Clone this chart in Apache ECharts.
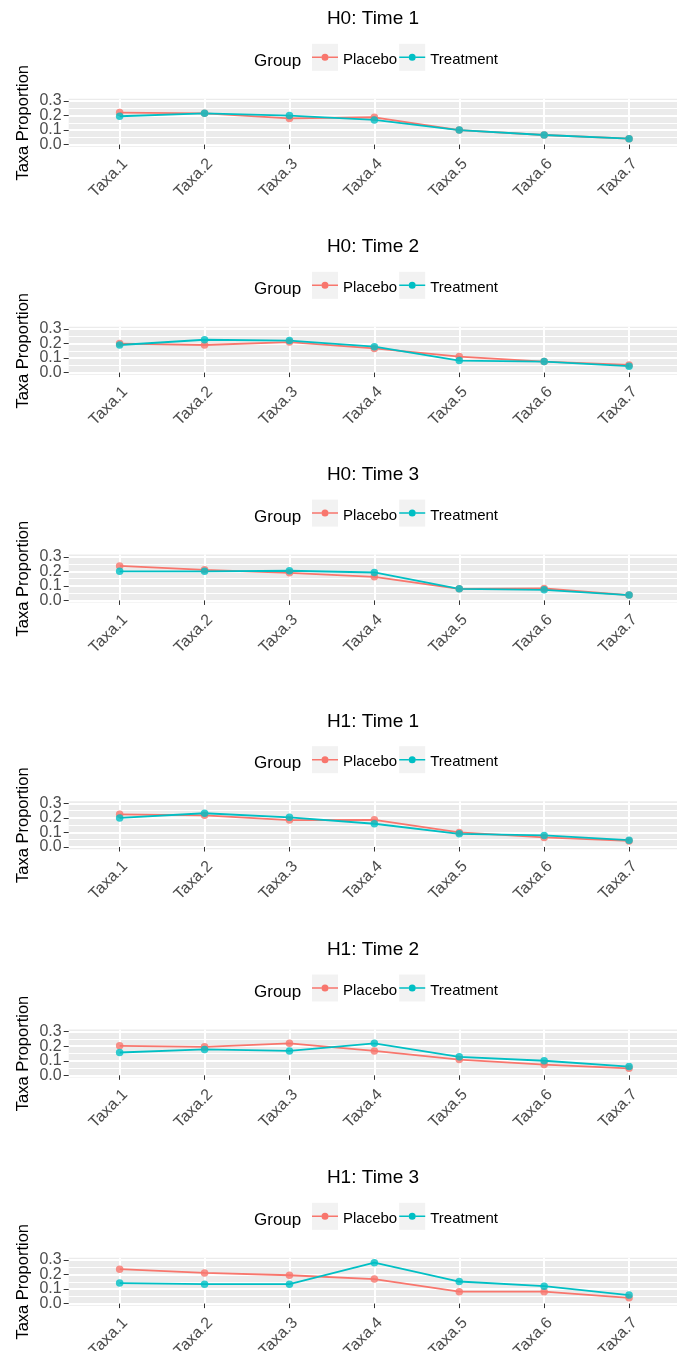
<!DOCTYPE html>
<html>
<head>
<meta charset="utf-8">
<script src="https://cdn.jsdelivr.net/npm/echarts@6/dist/echarts.min.js"></script>
<style>
html,body{margin:0;padding:0;background:#fff;}
#chart{width:677px;height:1351px;}
</style>
</head>
<body>
<div id="chart"></div>
<script>
// ---- data ----
const taxa = ['Taxa.1','Taxa.2','Taxa.3','Taxa.4','Taxa.5','Taxa.6','Taxa.7'];
const groups = ['Placebo','Treatment'];
const panelTitles = ['H0: Time 1','H0: Time 2','H0: Time 3','H1: Time 1','H1: Time 2','H1: Time 3'];
const yTicks = [0, 0.1, 0.2, 0.3];
const yMinorTicks = [0.05, 0.15, 0.25];

const placebo_H0_T1   = [0.220, 0.215, 0.180, 0.188, 0.100, 0.066, 0.041];
const treatment_H0_T1 = [0.195, 0.215, 0.200, 0.170, 0.100, 0.066, 0.041];
const placebo_H0_T2   = [0.200, 0.190, 0.210, 0.166, 0.110, 0.076, 0.053];
const treatment_H0_T2 = [0.190, 0.226, 0.220, 0.178, 0.083, 0.076, 0.044];
const placebo_H0_T3   = [0.237, 0.210, 0.190, 0.162, 0.080, 0.082, 0.037];
const treatment_H0_T3 = [0.200, 0.200, 0.204, 0.192, 0.080, 0.073, 0.037];
const placebo_H1_T1   = [0.225, 0.218, 0.185, 0.187, 0.100, 0.066, 0.042];
const treatment_H1_T1 = [0.200, 0.232, 0.204, 0.160, 0.091, 0.080, 0.047];
const placebo_H1_T2   = [0.203, 0.196, 0.220, 0.168, 0.108, 0.074, 0.048];
const treatment_H1_T2 = [0.157, 0.178, 0.168, 0.220, 0.127, 0.100, 0.060];
const placebo_H1_T3   = [0.237, 0.211, 0.195, 0.169, 0.082, 0.082, 0.040];
const treatment_H1_T3 = [0.141, 0.134, 0.134, 0.281, 0.152, 0.120, 0.059];

const panelData = [
  [placebo_H0_T1, treatment_H0_T1],
  [placebo_H0_T2, treatment_H0_T2],
  [placebo_H0_T3, treatment_H0_T3],
  [placebo_H1_T1, treatment_H1_T1],
  [placebo_H1_T2, treatment_H1_T2],
  [placebo_H1_T3, treatment_H1_T3]
];

// ---- layout / style ----
const colors = ['#F8766D', '#00BFC4'];
const FONT = 'Liberation Sans, Arial, sans-serif';
const panelTops = [98.8, 326.8, 554.6, 801.2, 1029.5, 1257.8];
const panelH = 48;
const gridLeft = 68.7, gridWidth = 611.3;
const Y_MIN = -0.015, Y_MAX = 0.315;
// legend key: line + point, bbox padded to 26x27 with tiny corner specks so it stays centred
const keyIcon = 'path://M0,0L0.01,0L0.01,0.01Z M25.99,26.99L26,26.99L26,27Z ' +
  'M0,12.75L9.5,12.75L9.5,14.25L0,14.25Z M16.5,12.75L26,12.75L26,14.25L16.5,14.25Z ' +
  'M9.5,13.5A3.5,3.5 0 1,0 16.5,13.5A3.5,3.5 0 1,0 9.5,13.5Z';

const chart = echarts.init(document.getElementById('chart'), null, {renderer: 'canvas'});

const grids = [], xAxes = [], yAxes = [], series = [], titles = [], legends = [];

// tick labels split over two axes (every other tick) so the close spacing never triggers label hiding
const yLabelSets = [yTicks.filter((_, i) => i % 2 === 0), yTicks.filter((_, i) => i % 2 === 1)];

panelTitles.forEach((t, p) => {
  const top = panelTops[p];
  grids.push({
    left: gridLeft, width: gridWidth, top: top, height: panelH,
    show: true, backgroundColor: '#EBEBEB', borderWidth: 0,
    containLabel: false, outerBoundsMode: 'none'
  });
  xAxes.push({
    gridIndex: p, type: 'value', min: 0.4, max: 7.6,
    axisLine: {show: false},
    axisTick: {show: true, length: 4.5, lineStyle: {color: '#333333', width: 1}, customValues: taxa.map((_, i) => i + 1)},
    axisLabel: {
      show: true, rotate: 45, margin: 9, verticalAlign: 'top',
      showMinLabel: true, showMaxLabel: true, hideOverlap: false,
      customValues: taxa.map((_, i) => i + 1),
      formatter: v => taxa[Math.round(v) - 1] || '',
      color: '#4D4D4D', fontSize: 16, fontFamily: FONT
    },
    splitLine: {show: true, lineStyle: {color: '#FFFFFF', width: 2}}
  });
  const yIdx = yAxes.length;
  // main y axis: data scale, major grid, axis title
  yAxes.push({
    gridIndex: p, type: 'value', min: Y_MIN, max: Y_MAX, position: 'left',
    axisLine: {show: false},
    axisTick: {show: false, customValues: yTicks},
    axisLabel: {show: false, customValues: yTicks},
    splitLine: {show: true, lineStyle: {color: '#FFFFFF', width: 2}},
    name: 'Taxa Proportion', nameLocation: 'middle', nameGap: 37,
    nameTextStyle: {color: '#000000', fontSize: 16.5, fontFamily: FONT}
  });
  // minor grid
  yAxes.push({
    gridIndex: p, type: 'value', min: Y_MIN, max: Y_MAX, position: 'left',
    axisLine: {show: false},
    axisTick: {show: false, customValues: yMinorTicks},
    axisLabel: {show: false, customValues: yMinorTicks},
    splitLine: {show: true, lineStyle: {color: '#FFFFFF', width: 1}}
  });
  // tick labels + tick marks
  yLabelSets.forEach(vals => {
    yAxes.push({
      gridIndex: p, type: 'value', min: Y_MIN, max: Y_MAX, position: 'left',
      axisLine: {show: false},
      axisTick: {show: true, length: 5, lineStyle: {color: '#333333', width: 1}, customValues: vals},
      axisLabel: {
        show: true, margin: 7, customValues: vals,
        showMinLabel: true, showMaxLabel: true,
        formatter: v => Number(v).toFixed(1),
        color: '#4D4D4D', fontSize: 16, fontFamily: FONT
      },
      splitLine: {show: false}
    });
  });

  groups.forEach((g, k) => {
    series.push({
      type: 'line', name: g, xAxisIndex: p, yAxisIndex: yIdx,
      data: panelData[p][k].map((v, i) => [i + 1, v]),
      symbol: 'none', lineStyle: {color: colors[k], width: 1.8},
      itemStyle: {color: colors[k]}, z: 2, silent: true
    });
  });
  groups.forEach((g, k) => {
    series.push({
      type: 'scatter', name: g, xAxisIndex: p, yAxisIndex: yIdx,
      data: panelData[p][k].map((v, i) => [i + 1, v]),
      symbol: 'circle', symbolSize: 7.5,
      itemStyle: {color: colors[k]}, z: 3, silent: true
    });
  });

  titles.push({
    text: t, left: 373, top: top - 89.3, textAlign: 'center', padding: 0,
    textStyle: {color: '#000000', fontSize: 19, fontWeight: 'normal', fontFamily: FONT}
  });
  titles.push({
    text: 'Group', left: 254, top: top - 46, padding: 0,
    textStyle: {color: '#000000', fontSize: 17, fontWeight: 'normal', fontFamily: FONT}
  });

  const legBase = {
    left: 312, top: top - 55, padding: 0, orient: 'horizontal',
    itemWidth: 26, itemHeight: 27, itemGap: 2, selectedMode: false,
    formatter: '{a|{name}}'
  };
  legends.push(Object.assign({}, legBase, {
    z: 4,
    data: groups.map(g => ({name: g, icon: 'rect', itemStyle: {color: '#F2F2F2', borderWidth: 0}})),
    textStyle: {color: '#000000', fontSize: 15, fontFamily: FONT,
      rich: {a: {color: '#000000', fontSize: 15, fontFamily: FONT, padding: [5, 0, 0, 0]}}}
  }));
  legends.push(Object.assign({}, legBase, {
    z: 5,
    data: groups.map((g, k) => ({name: g, icon: keyIcon, itemStyle: {color: colors[k], borderWidth: 0}})),
    textStyle: {color: 'rgba(0,0,0,0)', fontSize: 15, fontFamily: FONT,
      rich: {a: {color: 'rgba(0,0,0,0)', fontSize: 15, fontFamily: FONT, padding: [5, 0, 0, 0]}}}
  }));
});

chart.setOption({
  animation: false,
  backgroundColor: '#FFFFFF',
  title: titles,
  legend: legends,
  grid: grids,
  xAxis: xAxes,
  yAxis: yAxes,
  series: series
});
</script>
</body>
</html>
